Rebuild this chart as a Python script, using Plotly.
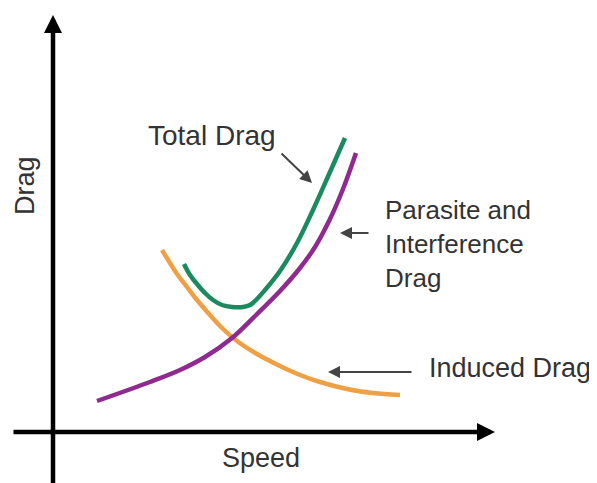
import plotly.graph_objects as go

# ---- data (speed, drag) in chart units, origin at axis crossing ----
parasite_speed = [44, 97, 127, 152, 179, 202, 227, 247, 262, 277, 290, 303]
parasite_drag = [31, 50, 62, 75, 94, 116, 141, 164, 185, 213, 243, 279]

total_speed = [131, 137, 144, 152, 160, 169, 179, 190, 197, 204, 212, 227, 244, 260, 277, 292]
total_drag = [168, 157, 148, 139, 132, 127, 125, 125, 127, 133, 142, 161, 189, 222, 260, 294]

induced_speed = [109, 117, 124, 134, 144, 157, 167, 184, 204, 227, 247, 267, 294, 320, 347]
induced_drag = [182, 169, 158, 145, 132, 117, 106, 91, 78, 66, 57, 50, 43, 39, 37]

x_label = "Speed"
y_label = "Drag"
labels = ["Total Drag", "Parasite and<br>Interference<br>Drag", "Induced Drag"]

FONT = "Arial, Liberation Sans, sans-serif"
TXT = "#333333"

fig = go.Figure()
fig.add_trace(go.Scatter(x=induced_speed, y=induced_drag, mode="lines", line_shape="spline",
                         line=dict(color="#F0A044", width=4.5), hoverinfo="skip"))
fig.add_trace(go.Scatter(x=parasite_speed, y=parasite_drag, mode="lines", line_shape="spline",
                         line=dict(color="#8E2A90", width=4.5), hoverinfo="skip"))
fig.add_trace(go.Scatter(x=total_speed, y=total_drag, mode="lines", line_shape="spline",
                         line=dict(color="#1B8A5E", width=4.5), hoverinfo="skip"))

ann = []
# axes with arrowheads
ann.append(dict(x=442, y=0, ax=-41, ay=0, xref="x", yref="y", axref="x", ayref="y",
                text="", showarrow=True, arrowhead=2, arrowsize=0.8, arrowwidth=4.5,
                arrowcolor="#000000", standoff=0))
ann.append(dict(x=0, y=417, ax=0, ay=-60, xref="x", yref="y", axref="x", ayref="y",
                text="", showarrow=True, arrowhead=2, arrowsize=0.8, arrowwidth=4.5,
                arrowcolor="#000000", standoff=0))
# pointer arrows
ann.append(dict(x=259, y=249, ax=227, ay=280, xref="x", yref="y", axref="x", ayref="y",
                text="", showarrow=True, arrowhead=2, arrowsize=1.2, arrowwidth=2,
                arrowcolor="#444444", standoff=0))
ann.append(dict(x=287, y=199, ax=317, ay=199, xref="x", yref="y", axref="x", ayref="y",
                text="", showarrow=True, arrowhead=2, arrowsize=1.2, arrowwidth=2,
                arrowcolor="#444444", standoff=0))
ann.append(dict(x=275, y=60, ax=360, ay=60, xref="x", yref="y", axref="x", ayref="y",
                text="", showarrow=True, arrowhead=2, arrowsize=1.2, arrowwidth=2,
                arrowcolor="#444444", standoff=0))
# texts
ann.append(dict(x=159, y=297, text=labels[0], showarrow=False, xanchor="center", yanchor="middle",
                font=dict(family=FONT, size=28, color=TXT)))
ann.append(dict(x=330, y=239, text=labels[1], showarrow=False, xanchor="left", yanchor="top",
                align="left", font=dict(family=FONT, size=26, color=TXT)))
ann.append(dict(x=374, y=64, text=labels[2], showarrow=False, xanchor="left", yanchor="middle",
                font=dict(family=FONT, size=27, color=TXT)))
ann.append(dict(x=208, y=-26, text=x_label, showarrow=False, xanchor="center", yanchor="middle",
                font=dict(family=FONT, size=27, color=TXT)))
ann.append(dict(x=-28, y=246, text=y_label, showarrow=False, xanchor="center", yanchor="middle",
                textangle=-90, font=dict(family=FONT, size=27, color=TXT)))

# page body has an 8px margin: figure is 8px smaller and ranges start 8px in
fig.update_layout(
    width=589, height=475, margin=dict(l=0, r=0, t=0, b=0),
    paper_bgcolor="white", plot_bgcolor="white", showlegend=False,
    xaxis=dict(range=[-45, 544], visible=False, fixedrange=True),
    yaxis=dict(range=[-51, 424], visible=False, fixedrange=True),
    annotations=ann,
)

fig.write_html("out.html", config={"displayModeBar": False})
